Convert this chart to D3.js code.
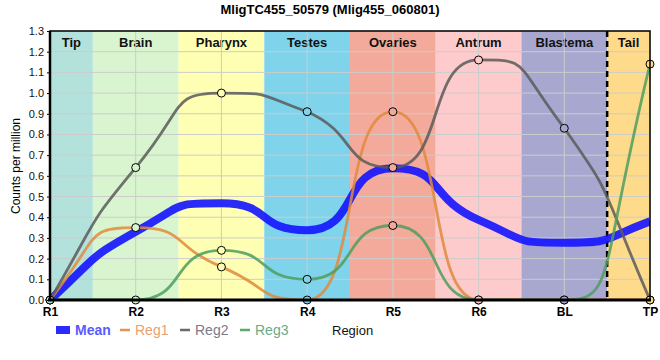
<!DOCTYPE html>
<html><head><meta charset="utf-8">
<script src="https://cdn.jsdelivr.net/npm/d3@7"></script>
<style>body{margin:0;background:#fff}svg{display:block;font-family:"Liberation Sans",Arial,sans-serif}</style>
</head><body><svg id="c" width="660" height="360"></svg>
<script>
const title = "MligTC455_50579 (Mlig455_060801)";
const regions = ["R1","R2","R3","R4","R5","R6","BL","TP"];
const bandNames = ["Tip","Brain","Pharynx","Testes","Ovaries","Antrum","Blastema","Tail"];
const bandColors = ["#b3e2dc","#d9f5cf","#ffffb4","#7fd3eb","#f4aa9a","#fdcbcb","#a8a7cf","#fedb8b"];
const reg1 = [0, 0.35, 0.16, 0.0, 0.91, 0.0, 0.0, 0.0];
const reg2 = [0, 0.64, 1.00, 0.91, 0.64, 1.16, 0.83, 0.0];
const reg3 = [0, 0.0, 0.24, 0.10, 0.36, 0.0, 0.0, 1.14];
const meanVals = [0, 0.33, 0.467, 0.337, 0.637, 0.387, 0.277, 0.38];
const yTicks = [0,0.1,0.2,0.3,0.4,0.5,0.6,0.7,0.8,0.9,1.0,1.1,1.2,1.3];

// custom d3 curve: monotone tangents with long handles (plateau-like extrema)
function curveSmoothPlateau(context){ return new SmoothPlateau(context); }
class SmoothPlateau {
  constructor(ctx){ this._context = ctx; this._a = 0.6; }
  areaStart(){} areaEnd(){}
  lineStart(){ this._x=[]; this._y=[]; }
  point(x,y){ this._x.push(+x); this._y.push(+y); }
  lineEnd(){
    const X=this._x, Y=this._y, n=X.length, c=this._context, a=this._a;
    if(!n) return;
    c.moveTo(X[0],Y[0]);
    if(n===1) return;
    const s=[], m=new Array(n).fill(0);
    for(let i=0;i<n-1;i++) s.push((Y[i+1]-Y[i])/(X[i+1]-X[i]));
    for(let i=1;i<n-1;i++){
      const h0=X[i]-X[i-1], h1=X[i+1]-X[i];
      const p=(s[i-1]*h1+s[i]*h0)/(h0+h1);
      m[i]=(Math.sign(s[i-1])+Math.sign(s[i]))*Math.min(Math.abs(s[i-1]),Math.abs(s[i]),0.5*Math.abs(p))||0;
    }
    m[0] = n>2 ? (3*s[0]-m[1])/2 : s[0];
    m[n-1] = n>2 ? (3*s[n-2]-m[n-2])/2 : s[n-2];
    const clampOff=(off,d)=>{
      if(Math.sign(off)!==Math.sign(d)) return 0;
      return Math.sign(d)*Math.min(Math.abs(off),Math.abs(d));
    };
    for(let i=0;i<n-1;i++){
      const h=X[i+1]-X[i], d=Y[i+1]-Y[i];
      const o0=clampOff(a*h*m[i],d), o1=clampOff(a*h*m[i+1],d);
      c.bezierCurveTo(X[i]+a*h, Y[i]+o0, X[i+1]-a*h, Y[i+1]-o1, X[i+1], Y[i+1]);
    }
  }
}

const svg = d3.select("#c");
const L=50,R=650,T=31,B=300;
const x = d3.scalePoint().domain(regions).range([L,R]);
const y = d3.scaleLinear().domain([0,1.3]).range([B,T]);

// bands
const xs = regions.map(r=>x(r));
bandNames.forEach((n,i)=>{
  const x0 = i===0?L:(xs[i-1]+xs[i])/2;
  const x1 = i===regions.length-1?R:(xs[i]+xs[i+1])/2;
  svg.append("rect").attr("x",x0).attr("y",T).attr("width",x1-x0).attr("height",B-T).attr("fill",bandColors[i]);
  svg.append("text").attr("x",(x0+x1)/2).attr("y",T+16).attr("text-anchor","middle")
    .attr("font-size",13).attr("font-weight","bold").attr("fill","#111").text(n);
});
// grid
const g = svg.append("g").attr("stroke","#cccccc").attr("stroke-width",1);
yTicks.forEach(t=>g.append("line").attr("x1",L).attr("x2",R).attr("y1",y(t)).attr("y2",y(t)));
regions.forEach(r=>g.append("line").attr("x1",x(r)).attr("x2",x(r)).attr("y1",T).attr("y2",B));

// dashed separator between BL and TP
svg.append("line").attr("x1",(x("BL")+x("TP"))/2).attr("x2",(x("BL")+x("TP"))/2).attr("y1",T).attr("y2",B)
  .attr("stroke","#000").attr("stroke-width",2.5).attr("stroke-dasharray","6,4");

// lines
const line = d3.line().x((d,i)=>x(regions[i])).y(d=>y(d)).curve(curveSmoothPlateau);
svg.append("clipPath").attr("id","pc").append("rect").attr("x",L).attr("y",T).attr("width",R-L).attr("height",B-T);
const lg = svg.append("g").attr("clip-path","url(#pc)");
lg.append("path").attr("d",line(meanVals)).attr("fill","none").attr("stroke","#1414ff").attr("stroke-opacity",0.9).attr("stroke-width",8);
const series = [[reg1,"#e0893d"],[reg2,"#5a5a5a"],[reg3,"#4e9e5e"]];
series.forEach(([d,c])=>{
  lg.append("path").attr("d",line(d)).attr("fill","none").attr("stroke",c).attr("stroke-opacity",0.85).attr("stroke-width",2.8);
});

// markers (filled with the band colour behind them)
series.forEach(([d])=>{
  d.forEach((v,i)=>{
    svg.append("circle").attr("cx",x(regions[i])).attr("cy",y(v)).attr("r",4)
      .attr("fill",bandColors[i]).attr("stroke","#000").attr("stroke-width",1);
  });
});

// frame & axes
svg.append("rect").attr("x",L).attr("y",T).attr("width",R-L).attr("height",B-T).attr("fill","none").attr("stroke","#000").attr("stroke-width",1.5);
svg.append("line").attr("x1",L).attr("x2",L).attr("y1",T).attr("y2",B).attr("stroke","#000").attr("stroke-width",2.5);
svg.append("line").attr("x1",L-2).attr("x2",R+1).attr("y1",B).attr("y2",B).attr("stroke","#000").attr("stroke-width",3);

// y axis ticks
const ya = svg.append("g").attr("transform",`translate(${L},0)`).call(d3.axisLeft(y).tickValues(yTicks).tickFormat(d3.format(".1f")).tickSize(3));
ya.select(".domain").remove();
ya.selectAll("text").attr("font-size",11).attr("fill","#111").attr("font-family","Liberation Sans, Arial, sans-serif");
// x axis labels
const xa = svg.append("g").attr("transform",`translate(0,${B})`).call(d3.axisBottom(x).tickSize(0).tickPadding(7));
xa.select(".domain").remove();
xa.selectAll("text").attr("font-size",12).attr("font-weight","bold").attr("fill","#000").attr("font-family","Liberation Sans, Arial, sans-serif");

// title & labels
svg.append("text").attr("x",330).attr("y",14).attr("text-anchor","middle").attr("font-size",13).attr("font-weight","bold").text(title);
svg.append("text").attr("transform","translate(20,166) rotate(-90)").attr("text-anchor","middle").attr("font-size",12).text("Counts per million");
svg.append("text").attr("x",332).attr("y",335).attr("font-size",13).attr("fill","#111").text("Region");

// legend
const leg = [
  {name:"Mean", color:"#1414ff", text:"#5a5aff", w:8, x:56},
  {name:"Reg1", color:"#e0893d", text:"#eba070", w:2.5, x:120},
  {name:"Reg2", color:"#5a5a5a", text:"#7a7a8a", w:2.5, x:180},
  {name:"Reg3", color:"#4e9e5e", text:"#6aaa88", w:2.5, x:240}
];
leg.forEach((l,i)=>{
  const len = i===0?14:10;
  svg.append("line").attr("x1",l.x).attr("x2",l.x+len).attr("y1",330).attr("y2",330).attr("stroke",l.color).attr("stroke-width",l.w).attr("stroke-opacity",0.9);
  svg.append("text").attr("x",l.x+len+5).attr("y",335).attr("font-size",14).attr("font-weight",i===0?"bold":"normal").attr("fill",l.text).text(l.name);
});
</script></body></html>
